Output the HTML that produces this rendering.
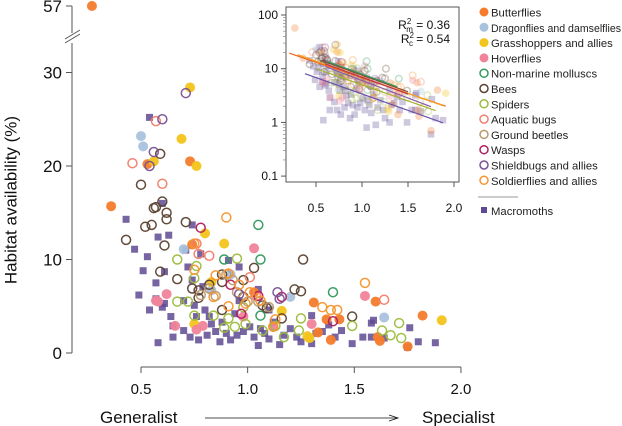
<!DOCTYPE html>
<html><head><meta charset="utf-8">
<style>
html,body{margin:0;padding:0;background:#fff;}
svg{display:block;font-family:"Liberation Sans",Arial,sans-serif;}
</style></head>
<body>
<svg id="chart" width="622" height="426" viewBox="0 0 622 426">
  <g id="main-axes"></g>
  <g id="main-points"></g>
  <g id="inset"></g>
  <text x="12" y="200" transform="rotate(-90 12 200)" text-anchor="middle" font-size="17" fill="#111" dominant-baseline="middle">Habitat availability (%)</text>
  <text x="100" y="423" font-size="17" fill="#111">Generalist</text>
  <text x="422" y="423" font-size="17" fill="#111">Specialist</text>
  <g>
    <line x1="205" y1="418" x2="397" y2="418" stroke="#111" stroke-width="0.8"/>
    <path d="M389,415 L398,418 L389,421" fill="none" stroke="#111" stroke-width="0.8"/>
  </g>
  <g id="legend"></g>
</svg>
<script>
const NS="http://www.w3.org/2000/svg";
// ---- data ----
const groups=["Butterflies","Dragonflies and damselflies","Grasshoppers and allies","Hoverflies","Non-marine molluscs","Bees","Spiders","Aquatic bugs","Ground beetles","Wasps","Shieldbugs and allies","Soldierflies and allies","Macromoths"];
const colors=["#f47c2c","#a9c2dc","#f3c41b","#f0839a","#2f9a5c","#5b4130","#9cbb3c","#f27e6c","#b99a70","#b01e5e","#7a5194","#f5942e","#5e4a92"];
const filled=[true,true,true,true,false,false,false,false,false,false,false,false,true];
const butterfliesX=[0.27,0.36,0.74,0.73,0.53,1.31,1.37,1.39,1.43,1.60,1.61,1.62,1.82,1.75,1.03,1.33];
const butterfliesY=[57,15.7,11.6,20.5,20.2,5.4,3.6,1.4,3.6,5.5,1.7,1.3,4.0,0.7,6.5,2.2];
const dragonfliesX=[0.50,0.51,0.70,0.83,1.20,1.64,0.92];
const dragonfliesY=[23.2,22.1,11.1,6.7,6.0,3.8,8.4];
const grasshoppersX=[0.73,0.69,0.76,0.56,0.80,0.89,0.83,0.75,1.16,1.28,1.29,1.91];
const grasshoppersY=[28.4,22.9,20.0,20.5,12.8,11.7,7.6,3.1,4.5,1.8,1.6,3.5];
const hoverfliesX=[1.03,0.62,0.58,0.66,0.76,0.79,0.98,1.12,1.30,1.55,0.57];
const hoverfliesY=[11.2,6.3,5.5,2.9,2.5,2.9,3.9,2.8,3.1,6.1,5.6];
const molluscsX=[1.05,0.89,1.06,1.40,1.06];
const molluscsY=[13.7,10.0,10.0,6.5,4.0];
const beesX=[0.59,0.50,0.60,0.56,0.43,0.52,0.55,0.57,0.62,0.62,0.61,0.59,0.67,0.71,0.77,0.77,0.88,0.88,0.98,0.98,1.03,1.07,1.16,1.22,1.25,1.26,1.49,0.88,1.09,0.82,0.74];
const beesY=[21.3,18.0,16.2,15.5,12.1,13.5,13.7,15.6,15.0,14.3,11.5,8.7,7.9,14.0,6.7,5.9,7.6,8.4,7.8,6.0,9.1,5.1,3.7,6.8,6.6,10.0,3.9,4.6,4.8,7.3,6.9];
const spidersX=[0.67,0.67,0.75,0.75,0.95,0.91,0.94,0.89,0.99,0.98,1.07,1.13,1.17,1.25,1.24,1.49,1.63,1.67,1.71,1.72,0.84,0.72,0.76];
const spidersY=[10.0,5.5,8.0,4.0,10.1,3.7,2.8,2.7,3.1,4.9,2.4,2.9,1.7,3.7,2.4,2.9,2.4,1.9,3.2,1.6,4.0,5.5,9.3];
const aquaticX=[0.46,0.57,0.60,0.76,0.77,0.82,1.01,1.04,1.64];
const aquaticY=[20.3,24.8,18.1,11.7,10.6,10.4,8.1,6.1,5.7];
const beetlesX=[0.90,0.85,0.95,1.00,0.82,1.05,0.78,1.10,0.93];
const beetlesY=[8.4,6.1,6.5,5.5,6.9,5.5,6.2,4.9,7.8];
const waspsX=[0.78,0.92,1.05,1.16,1.40,0.97];
const waspsY=[13.4,7.3,6.1,6.0,3.4,4.2];
const shieldbugsX=[0.71,0.60,0.56,0.54,1.14,1.15,0.96];
const shieldbugsY=[27.8,25.0,21.5,20.0,6.5,5.8,6.3];
const soldierfliesX=[0.90,0.75,0.85,0.91,0.84,0.91,1.01,0.96,0.99,1.13,1.35,1.39,1.42,1.55,0.75,1.06,1.12];
const soldierfliesY=[14.5,11.7,8.3,8.5,6.0,5.0,6.5,7.3,5.3,3.6,4.9,4.6,4.6,7.5,8.9,5.6,2.8];
const mothsX=[0.54,0.43,0.47,0.51,0.49,0.53,0.54,0.58,0.57,0.57,0.58,0.60,0.61,0.61,0.63,0.64,0.65,0.65,0.70,0.71,0.70,0.72,0.73,0.74,0.74,0.75,0.76,0.77,0.78,0.79,0.80,0.81,0.82,0.83,0.85,0.87,0.88,0.90,0.91,0.92,0.94,0.95,0.96,0.96,0.98,1.01,1.03,1.05,1.05,1.06,1.08,1.10,1.10,1.12,1.15,1.17,1.20,1.23,1.25,1.30,1.30,1.32,1.35,1.38,1.41,1.44,1.49,1.54,1.58,1.58,1.59,1.64,1.75,1.76,1.80,1.88,0.60];
const mothsY=[25.2,14.3,11.1,8.8,6.2,10.3,4.6,12.4,7.5,5.8,1.1,4.9,8.7,5.3,12.6,3.9,2.9,1.7,2.4,11.0,5.6,9.2,1.7,13.7,7.8,5.1,3.9,1.4,10.6,7.1,4.6,1.9,3.9,3.1,2.3,1.2,3.3,2.1,9.9,1.4,4.2,1.9,9.2,5.6,2.3,2.8,1.7,0.8,6.8,2.6,2.1,1.5,4.6,3.3,0.9,1.9,2.6,1.7,1.2,1.0,4.0,2.1,2.3,3.0,1.7,2.4,1.0,1.7,1.7,3.2,3.5,1.6,0.6,2.7,1.2,1.1,16.0];
const seriesX=[butterfliesX,dragonfliesX,grasshoppersX,hoverfliesX,molluscsX,beesX,spidersX,aquaticX,beetlesX,waspsX,shieldbugsX,soldierfliesX,mothsX];
const seriesY=[butterfliesY,dragonfliesY,grasshoppersY,hoverfliesY,molluscsY,beesY,spidersY,aquaticY,beetlesY,waspsY,shieldbugsY,soldierfliesY,mothsY];
const xTicks=[0.5,1.0,1.5,2.0];
const xTickLabels=["0.5","1.0","1.5","2.0"];
const yTicks=[0,10,20,30,57];
const yTickLabels=["0","10","20","30","57"];
const insetYTicks=[100,10,1,0.1];
const insetYTickLabels=["100","10","1","0.1"];
// inset regression lines (log10 scale): start x, end x, intercept at x=0, slope
const lineNames=["butterflies-fit","soldierflies-fit","bees-fit","wasps-fit","molluscs-fit","spiders-fit","shieldbugs-fit","macromoths-fit"];
const lineColors=["#f0641e","#f5a020","#8a4a2a","#c0304a","#2f9a5c","#a8b030","#8a5aa8","#6a52a8"];
const lineStart=[0.21,0.30,0.55,0.60,0.62,0.50,0.60,0.38];
const lineEnd=[1.91,1.88,1.50,1.50,1.38,1.80,1.75,1.88];
const lineIntercept=[1.41,1.44,1.50,1.46,1.52,1.30,1.43,1.14];
const lineSlope=[-0.58,-0.60,-0.62,-0.62,-0.62,-0.60,-0.65,-0.61];

// ---- scales ----
const X=v=>141+(v-0.5)*213.3;
const Y=v=>v>40?6-(v-57)*9.35:353-v*9.35;
const IX=v=>316+(v-0.5)*92;
const IY=v=>15+(2-Math.log10(v))*53.7;

function mk(tag,attrs,parent){const e=document.createElementNS(NS,tag);for(const k in attrs)e.setAttribute(k,attrs[k]);parent.appendChild(e);return e;}

// ---- main axes ----
const ax=document.getElementById('main-axes');
mk('line',{x1:X(0.5),y1:367,x2:X(2.0),y2:367,stroke:'#555','stroke-width':1},ax);
xTicks.forEach((t,i)=>{
  mk('line',{x1:X(t),y1:367,x2:X(t),y2:373,stroke:'#555'},ax);
  const tx=mk('text',{x:X(t),y:394,'text-anchor':'middle','font-size':15,fill:'#111'},ax);
  tx.textContent=xTickLabels[i];
  
  
});
mk('line',{x1:72,y1:Y(0),x2:72,y2:43,stroke:'#555'},ax);
mk('line',{x1:72,y1:33,x2:72,y2:Y(57),stroke:'#555'},ax);
mk('line',{x1:65,y1:43,x2:80,y2:34,stroke:'#555'},ax);
mk('line',{x1:65,y1:39,x2:80,y2:30,stroke:'#555'},ax);
yTicks.forEach((t,i)=>{
  mk('line',{x1:66,y1:Y(t),x2:72,y2:Y(t),stroke:'#555'},ax);
  const tx=mk('text',{x:62,y:Y(t)+6,'text-anchor':'end','font-size':17,fill:'#111'},ax);
  tx.textContent=yTickLabels[i];
  
  
});

function marker(g,gi,cx,cy,s,op){
  let e;
  if(gi===12){e=mk('rect',{x:cx-s,y:cy-s,width:2*s,height:2*s,fill:colors[gi],opacity:op},g);}
  else if(filled[gi]){e=mk('circle',{cx:cx,cy:cy,r:s+0.5,fill:colors[gi],opacity:op},g);}
  else{e=mk('circle',{cx:cx,cy:cy,r:s,fill:'none',stroke:colors[gi],'stroke-width':1.5,opacity:op},g);}
  return e;
}

// ---- main points ----
const mp=document.getElementById('main-points');
const order=[12,0,1,2,3,4,5,6,7,8,9,10,11];
order.forEach(gi=>{
  const xs=seriesX[gi],ys=seriesY[gi];
  for(let i=0;i<xs.length;i++){
    const e=marker(mp,gi,X(xs[i]),Y(ys[i]),gi===12?3.5:4.5,gi===12?0.85:0.95);
    
    
  }
});

// ---- inset ----
const ins=document.getElementById('inset');
mk('rect',{x:286,y:7,width:173,height:175,fill:'#fff',stroke:'#555','stroke-width':1},ins);
order.forEach(gi=>{
  const xs=seriesX[gi],ys=seriesY[gi];
  for(let i=0;i<xs.length;i++){
    const e=marker(ins,gi,IX(xs[i]),IY(ys[i]),3.3,0.3);
    
    
  }
});
lineNames.forEach((n,i)=>{
  const l=mk('line',{x1:IX(lineStart[i]),y1:IY(Math.pow(10,lineIntercept[i]+lineSlope[i]*lineStart[i])),x2:IX(lineEnd[i]),y2:IY(Math.pow(10,lineIntercept[i]+lineSlope[i]*lineEnd[i])),stroke:lineColors[i],'stroke-width':1.2},ins);
  
  
});
xTicks.forEach((t,i)=>{
  mk('line',{x1:IX(t),y1:182,x2:IX(t),y2:187,stroke:'#555'},ins);
  const tx=mk('text',{x:IX(t),y:212,'text-anchor':'middle','font-size':12,fill:'#111'},ins);
  tx.textContent=xTickLabels[i];
  
  
});
insetYTicks.forEach((t,i)=>{
  mk('line',{x1:281,y1:IY(t),x2:286,y2:IY(t),stroke:'#555'},ins);
  for(let k=2;k<10&&t<100;k++){const yy=IY(t*k);mk('line',{x1:283,y1:yy,x2:286,y2:yy,stroke:'#777','stroke-width':0.6},ins);}
  const tx=mk('text',{x:278,y:IY(t)+4,'text-anchor':'end','font-size':12,fill:'#111'},ins);
  tx.textContent=insetYTickLabels[i];
  
  
});
const r1=mk('text',{x:450,y:29,'text-anchor':'end','font-size':12,fill:'#111'},ins);
r1.innerHTML='R<tspan font-size="8" dy="-5">2</tspan><tspan font-size="8" dy="8" dx="-5">m</tspan><tspan dy="-3"> = 0.36</tspan>';


const r2=mk('text',{x:450,y:43,'text-anchor':'end','font-size':12,fill:'#111'},ins);
r2.innerHTML='R<tspan font-size="8" dy="-5">2</tspan><tspan font-size="8" dy="8" dx="-5">c</tspan><tspan dy="-3"> = 0.54</tspan>';



// ---- legend ----
const lg=document.getElementById('legend');
for(let gi=0;gi<12;gi++){
  const yy=12+gi*15.3;
  const g=mk('g',{},lg);
  
  
  marker(g,gi,484,yy,4,1);
  const t=mk('text',{x:491,y:yy+4.5,'font-size':11.3,fill:'#222'},g);
  if(gi===1){t.setAttribute('textLength','130');t.setAttribute('lengthAdjust','spacingAndGlyphs');}
  t.textContent=groups[gi];
}
mk('line',{x1:478,y1:197,x2:518,y2:197,stroke:'#999','stroke-width':1},lg);
const gm=mk('g',{},lg);


mk('rect',{x:481,y:207,width:6,height:6,fill:colors[12]},gm);
const tm=mk('text',{x:491,y:215,'font-size':11.3,fill:'#222'},gm);
tm.textContent="Macromoths";
</script>
</body></html>
